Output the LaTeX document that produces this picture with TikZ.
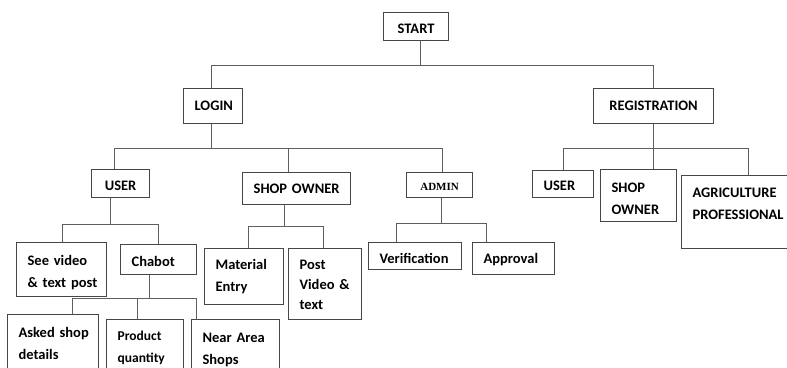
\documentclass[tikz,border=0pt]{standalone}
\usepackage{fontspec}
\setmainfont{Carlito}
\newfontfamily\adminfont{Liberation Serif}
\usepackage{tikz}
\usetikzlibrary{positioning}
\definecolor{boxgray}{RGB}{70,70,70}
\definecolor{linegray}{RGB}{95,95,95}

\begin{document}
\begin{tikzpicture}[x=1pt, y=-1pt,
        box/.style={draw=boxgray, line width=1.2pt, anchor=north west, inner xsep=11pt, inner ysep=0pt,
            align=left, font=\fontsize{14.5}{21.5}\selectfont\bfseries},
        mid/.style={box, align=center},
        link/.style={draw=linegray, line width=1.2pt}]
        \useasboundingbox (0,0) rectangle (787,367);

        % Draw top levels
        \node[mid, text width=43pt, text height=21pt, text depth=7pt] (start) at (383,12) {START};
        \node[mid, text width=37pt, text height=22pt, text depth=13pt] (login) at (183,88) {LOGIN};
        \node[mid, text width=98pt, text height=22pt, text depth=13pt] (reg) at (593,88) {REGISTRATION};

        % Draw login branch
        \node[mid, text width=36pt, text height=21pt, text depth=7pt] (user) at (91,169) {USER};
        \node[mid, text width=86pt, text height=21pt, text depth=11pt] (owner) at (242,172) {SHOP OWNER};
        \node[mid, text width=44pt, text height=18pt, text depth=7pt, font=\adminfont\fontsize{11}{13}\selectfont\bfseries] (admin) at (406,172) {ADMIN};

        % Draw registration branch
        \node[box, text width=39pt, text height=20pt, text depth=7pt] (newuser) at (532,170) {USER};
        \node[box, text width=54pt, text height=23pt, text depth=29pt] (newowner) at (600,169) {SHOP\\OWNER};
        \node[box, text width=92pt, text height=22pt, text depth=51pt] (agri) at (681,175) {AGRICULTURE\\PROFESSIONAL};

        % Draw user leaves
        \node[box, text width=68pt, text height=23pt, text depth=31pt] (video) at (16,242) {See video\\\mbox{\& text post}};
        \node[box, text width=54pt, text height=22pt, text depth=8pt] (chabot) at (120,244) {Chabot};
        \node[box, text width=69pt, text height=23pt, text depth=43pt] (asked) at (7,314) {\mbox{Asked shop}\\details};
        \node[box, text width=55pt, text height=21pt, text depth=40pt, font=\fontsize{13.5}{22}\selectfont\bfseries] (product) at (106,319) {Product\\quantity};
        \node[box, text width=66pt, text height=23pt, text depth=38pt] (near) at (191,319) {\mbox{Near Area}\\Shops};

        % Draw shop owner and admin leaves
        \node[box, text width=57pt, text height=21pt, text depth=35pt] (material) at (204,248) {Material\\Entry};
        \node[box, text width=51pt, text height=21pt, text depth=50pt, font=\fontsize{14.5}{20}\selectfont\bfseries] (post) at (288,248) {Post\\\mbox{Video \&}\\text};
        \node[box, text width=71pt, text height=21pt, text depth=6pt] (verify) at (368,242) {\mbox{Verification}};
        \node[box, text width=60pt, text height=21pt, text depth=11pt] (approval) at (472,242) {Approval};

        % Draw connectors
        \draw[link] ([xshift=4.5pt]start.south) -- ++(0,24) -| ([xshift=-1.5pt]login.north);
        \draw[link] ([xshift=4.5pt]start.south) -- ++(0,24) -| (reg.north);

        \draw[link] ([xshift=-1.5pt]login.south) -- ++(0,24) -| ([xshift=-6pt]user.north);
        \draw[link] ([xshift=-1.5pt]login.south) -- ++(0,24) -| ([xshift=-8pt]owner.north);
        \draw[link] ([xshift=-1.5pt]login.south) -- ++(0,24) -| ([xshift=3pt]admin.north);

        \draw[link] (reg.south) -- ++(0,24) -| (newuser.north);
        \draw[link] (reg.south) -- ++(0,24) -| ([xshift=15pt]newowner.north);
        \draw[link] (reg.south) -- ++(0,24) -| ([xshift=10pt]agri.north);

        \draw[link] ([xshift=-10pt]user.south) -- ++(0,26) -| ([xshift=1pt]video.north);
        \draw[link] ([xshift=-10pt]user.south) -- ++(0,26) -| (chabot.north);

        \draw[link] ([xshift=-9pt]chabot.south) -- ++(0,23) -| ([xshift=19.5pt]asked.north);
        \draw[link] ([xshift=-9pt]chabot.south) -- ++(0,23) -| ([xshift=-7.5pt]product.north);
        \draw[link] ([xshift=-9pt]chabot.south) -- ++(0,23) -| ([xshift=-39pt]near.north);

        \draw[link] ([xshift=-12pt]owner.south) -- ++(0,21) -| ([xshift=4.5pt]material.north);
        \draw[link] ([xshift=-12pt]owner.south) -- ++(0,21) -| ([xshift=-1.5pt]post.north);

        \draw[link] ([xshift=2pt]admin.south) -- ++(0,25) -| ([xshift=-18.5pt]verify.north);
        \draw[link] ([xshift=2pt]admin.south) -- ++(0,25) -| ([xshift=-27pt]approval.north);
    \end{tikzpicture}
\end{document}
